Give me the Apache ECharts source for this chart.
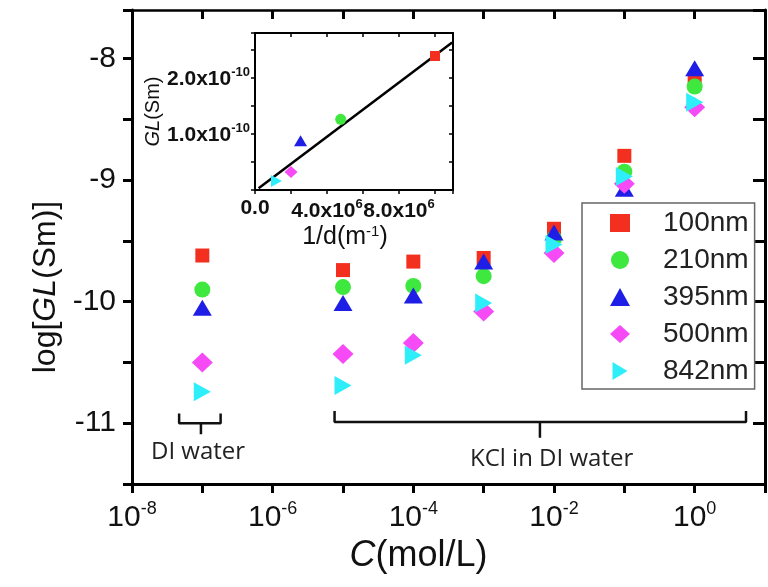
<!DOCTYPE html>
<html>
<head>
<meta charset="utf-8">
<script src="https://cdn.jsdelivr.net/npm/echarts@6/dist/echarts.min.js"></script>
<style>
html, body { margin: 0; padding: 0; background: #fff; }
#chart { width: 768px; height: 587px; }
</style>
</head>
<body>
<div id="chart"></div>
<script>
// log10 of concentration C (mol/L); the first column is DI water
var logC = [-7, -5, -4, -3, -2, -1, 0];
// log[GL(Sm)] for each channel width
var gl100 = [-9.62, -9.74, -9.67, -9.64, -9.40, -8.80, -8.18];
var gl210 = [-9.90, -9.88, -9.87, -9.79, -9.48, -8.93, -8.23];
var gl395 = [-10.05, -10.01, -9.95, -9.67, -9.43, -9.07, -8.08];
var gl500 = [-10.50, -10.43, -10.34, -10.08, -9.60, -9.03, -8.40];
var gl842 = [-10.74, -10.69, -10.44, -10.01, -9.53, -8.97, -8.36];
var names = ['100nm', '210nm', '395nm', '500nm', '842nm'];

// inset: GL vs 1/d
var invD = [1.0e7, 4.76e6, 2.53e6, 2.0e6, 1.19e6];
var glInset = [2.39e-10, 1.26e-10, 0.88e-10, 0.32e-10, 0.16e-10];
var fitLine = [[0.2e6, 0.03e-10], [1.095e7, 2.63e-10]];

// brackets under the points
var diBracket = [[-7.33, -10.92], [-7.33, -11.0], [-6.74, -11.0], [-6.74, -10.92]];
var diStem = [[-7.02, -11.0], [-7.02, -11.09]];
var kclBracket = [[-5.12, -10.90], [-5.12, -10.99], [0.73, -10.99], [0.73, -10.90]];
var kclStem = [[-2.2, -10.99], [-2.2, -11.12]];

var colors = ['#f3301f', '#3ee83e', '#1e1ee6', '#f74af7', '#2eeefa'];
var symbols = ['rect', 'circle', 'triangle', 'diamond', 'path://M0,0L10,6L0,12Z'];
var mainSizes = [14, 16, [19, 16], [21, 20], [17, 19]];
var insetSizes = [10, 11, [13, 11], [13, 12], [11, 12]];
var font = '"Liberation Sans", Arial, sans-serif';

var mainData = [gl100, gl210, gl395, gl500, gl842];
var series = [];

names.forEach(function(name, i) {
    series.push({
        name: name,
        type: 'scatter',
        xAxisIndex: 0,
        yAxisIndex: 0,
        symbol: symbols[i],
        symbolSize: mainSizes[i],
        itemStyle: { color: colors[i], opacity: 1 },
        data: logC.map(function(x, j) { return [x, mainData[i][j]]; }),
        z: 3
    });
});
names.forEach(function(name, i) {
    series.push({
        name: name,
        type: 'scatter',
        xAxisIndex: 2,
        yAxisIndex: 2,
        symbol: symbols[i],
        symbolSize: insetSizes[i],
        itemStyle: { color: colors[i], opacity: 1 },
        data: [[invD[i], glInset[i]]],
        z: 4
    });
});
series.push({
    type: 'line',
    xAxisIndex: 2,
    yAxisIndex: 2,
    symbol: 'none',
    silent: true,
    lineStyle: { color: '#000', width: 2.5 },
    data: fitLine,
    z: 3
});
[diBracket, diStem, kclBracket, kclStem].forEach(function(d) {
    series.push({
        type: 'line',
        xAxisIndex: 0,
        yAxisIndex: 0,
        symbol: 'none',
        silent: true,
        lineStyle: { color: '#111', width: 2.5 },
        data: d
    });
});

var black = { color: '#000', width: 3 };
var insetRich = {
    b: { fontSize: 21, fontWeight: 'bold', verticalAlign: 'bottom', fontFamily: font },
    s: { fontSize: 13, fontWeight: 'bold', verticalAlign: 'bottom', padding: [0, 0, 11, 0], fontFamily: font }
};

var option = {
    backgroundColor: '#fff',
    animation: false,
    textStyle: { fontFamily: font },
    grid: [
        { left: 132, top: 10, right: -9, bottom: 103 },
        { left: 255, top: 33, width: 198, height: 157 }
    ],
    legend: {
        orient: 'vertical',
        left: 582,
        top: 203,
        data: names,
        itemWidth: 20,
        itemHeight: 18,
        itemGap: 9,
        padding: [6, 6, 4, 28],
        borderColor: '#666',
        borderWidth: 1.5,
        backgroundColor: '#fff',
        selectedMode: false,
        textStyle: { fontSize: 28, color: '#222', fontFamily: font, padding: [0, 0, 0, 28] }
    },
    xAxis: [{
        gridIndex: 0,
        type: 'value',
        min: -8,
        max: 1,
        interval: 1,
        position: 'bottom',
        splitLine: { show: false },
        axisLine: { onZero: false, lineStyle: black },
        axisTick: { length: 9, lineStyle: black },
        axisLabel: {
            margin: 16,
            color: '#111',
            formatter: function(v) {
                if (v % 2 !== 0 || v > 0) return '';
                return '{b|10}{s|' + v + '}';
            },
            rich: {
                b: { fontSize: 30, verticalAlign: 'bottom', fontFamily: font },
                s: { fontSize: 18, verticalAlign: 'bottom', padding: [0, 0, 15, 0], fontFamily: font }
            }
        },
        name: '{i|C}(mol/L)',
        nameLocation: 'middle',
        nameGap: 54,
        nameTextStyle: {
            fontSize: 36, color: '#111', padding: [0, 60, 0, 0],
            rich: { i: { fontSize: 36, fontStyle: 'italic', fontFamily: font } }
        }
    }, {
        gridIndex: 0,
        type: 'value',
        min: -8,
        max: 1,
        interval: 1,
        position: 'top',
        splitLine: { show: false },
        axisLine: { onZero: false, lineStyle: { color: '#000', width: 2.5 } },
        axisTick: { inside: true, length: 9, lineStyle: black },
        axisLabel: { show: false }
    }, {
        gridIndex: 1,
        type: 'value',
        min: 0,
        max: 1.1e7,
        interval: 2e6,
        position: 'bottom',
        splitLine: { show: false },
        axisLine: { onZero: false, lineStyle: { color: '#000', width: 2 } },
        axisTick: { length: 4, lineStyle: { color: '#000', width: 1.5 } },
        axisLabel: {
            margin: 8,
            color: '#111',
            formatter: function(v) {
                var k = Math.round(v / 1e5) / 10;
                if (k === 0) return '{b|0.0}';
                if (k === 4 || k === 8) return '{b|' + k.toFixed(1) + 'x10}{s|6}';
                return '';
            },
            rich: insetRich
        },
        name: '1/d(m{s|-1})',
        nameLocation: 'middle',
        nameGap: 34,
        nameTextStyle: {
            fontSize: 25, color: '#111', padding: [0, 18, 0, 0],
            rich: { s: { fontSize: 15, verticalAlign: 'bottom', padding: [0, 0, 12, 0], fontFamily: font } }
        }
    }, {
        gridIndex: 1,
        type: 'value',
        min: 0,
        max: 1.1e7,
        interval: 2e6,
        position: 'top',
        splitLine: { show: false },
        axisLine: { onZero: false, lineStyle: { color: '#000', width: 2 } },
        axisTick: { inside: true, length: 4, lineStyle: { color: '#000', width: 1.5 } },
        axisLabel: { show: false }
    }],
    yAxis: [{
        gridIndex: 0,
        type: 'value',
        min: -11.5,
        max: -7.6,
        interval: 0.5,
        position: 'left',
        splitLine: { show: false },
        axisLine: { onZero: false, lineStyle: black },
        axisTick: { length: 9, lineStyle: black },
        axisLabel: {
            margin: 16,
            fontSize: 30,
            color: '#111',
            formatter: function(v) {
                return Math.abs(v - Math.round(v)) < 1e-6 ? String(Math.round(v)) : '';
            }
        },
        name: 'log[{i|GL}(Sm)]',
        nameLocation: 'middle',
        nameGap: 68,
        nameTextStyle: {
            fontSize: 32, color: '#111', padding: [0, 80, 0, 0],
            rich: { i: { fontSize: 32, fontStyle: 'italic', fontFamily: font } }
        }
    }, {
        gridIndex: 0,
        type: 'value',
        min: -11.5,
        max: -7.6,
        interval: 0.5,
        position: 'right',
        splitLine: { show: false },
        axisLine: { onZero: false, lineStyle: black },
        axisTick: { inside: true, length: 12, lineStyle: black },
        axisLabel: { show: false }
    }, {
        gridIndex: 1,
        type: 'value',
        min: 0,
        max: 2.8e-10,
        interval: 0.5e-10,
        position: 'left',
        splitLine: { show: false },
        axisLine: { onZero: false, lineStyle: { color: '#000', width: 2 } },
        axisTick: { length: 4, lineStyle: { color: '#000', width: 1.5 } },
        axisLabel: {
            margin: 5,
            color: '#111',
            formatter: function(v) {
                var k = Math.round(v * 1e11) / 10;
                if (k === 1 || k === 2) return '{b|' + k.toFixed(1) + 'x10}{s|-10}';
                return '';
            },
            rich: insetRich
        },
        name: '{i|GL}(Sm)',
        nameLocation: 'middle',
        nameGap: 88,
        nameTextStyle: {
            fontSize: 20, color: '#111',
            rich: { i: { fontSize: 20, fontStyle: 'italic', fontFamily: font } }
        }
    }, {
        gridIndex: 1,
        type: 'value',
        min: 0,
        max: 2.8e-10,
        interval: 0.5e-10,
        position: 'right',
        splitLine: { show: false },
        axisLine: { onZero: false, lineStyle: { color: '#000', width: 2 } },
        axisTick: { inside: true, length: 4, lineStyle: { color: '#000', width: 1.5 } },
        axisLabel: { show: false }
    }],
    graphic: [{
        type: 'text',
        left: 151,
        top: 440,
        style: { text: 'DI water', fontSize: 24, fontFamily: '"Open Sans", sans-serif', fill: '#222' }
    }, {
        type: 'text',
        left: 470,
        top: 447,
        style: { text: 'KCl in DI water', fontSize: 24, fontFamily: '"Open Sans", sans-serif', fill: '#222' }
    }],
    series: series
};

var myChart = echarts.init(document.getElementById('chart'));
myChart.setOption(option);
</script>
</body>
</html>
